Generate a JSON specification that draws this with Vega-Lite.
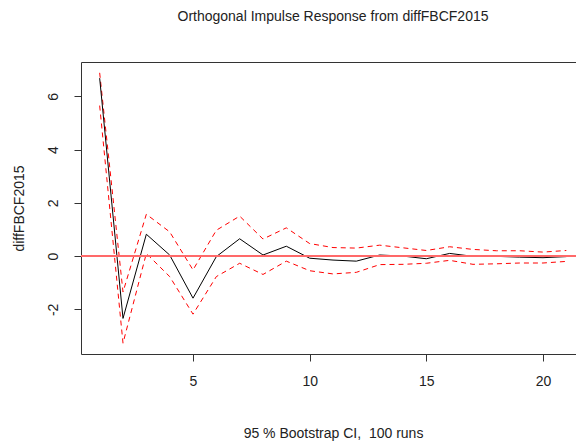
{
  "$schema": "https://vega.github.io/schema/vega-lite/v6.json",
  "autosize": "none",
  "width": 504,
  "height": 292,
  "padding": {"left": 81, "top": 62, "right": 0, "bottom": 87},
  "background": "white",
  "config": {
    "font": "Liberation Sans",
    "view": {"stroke": "#333", "strokeWidth": 1},
    "axis": {"grid": false, "domain": false, "tickColor": "#333", "tickSize": 7, "labelFontSize": 14, "titleFontSize": 14, "labelColor": "#222", "titleColor": "#222", "titleFontWeight": "normal", "labelFont": "Liberation Sans", "titleFont": "Liberation Sans"}
  },
  "title": {"text": "Orthogonal Impulse Response from diffFBCF2015", "fontSize": 14, "fontWeight": "normal", "font": "Liberation Sans", "color": "#222", "anchor": "middle", "offset": 38},
  "data": {"values": [
    {"x": 1, "irf": 6.68, "lower": 5.65, "upper": 6.88},
    {"x": 2, "irf": -2.34, "lower": -3.27, "upper": -1.35},
    {"x": 3, "irf": 0.82, "lower": 0.10, "upper": 1.57},
    {"x": 4, "irf": 0.04, "lower": -0.77, "upper": 0.91},
    {"x": 5, "irf": -1.58, "lower": -2.18, "upper": -0.52},
    {"x": 6, "irf": -0.02, "lower": -0.77, "upper": 0.97},
    {"x": 7, "irf": 0.65, "lower": -0.27, "upper": 1.50},
    {"x": 8, "irf": 0.04, "lower": -0.69, "upper": 0.64},
    {"x": 9, "irf": 0.37, "lower": -0.19, "upper": 1.06},
    {"x": 10, "irf": -0.08, "lower": -0.55, "upper": 0.47},
    {"x": 11, "irf": -0.15, "lower": -0.67, "upper": 0.32},
    {"x": 12, "irf": -0.19, "lower": -0.61, "upper": 0.30},
    {"x": 13, "irf": 0.04, "lower": -0.32, "upper": 0.41},
    {"x": 14, "irf": 0.00, "lower": -0.31, "upper": 0.31},
    {"x": 15, "irf": -0.10, "lower": -0.27, "upper": 0.21},
    {"x": 16, "irf": 0.10, "lower": -0.16, "upper": 0.35},
    {"x": 17, "irf": -0.01, "lower": -0.31, "upper": 0.25},
    {"x": 18, "irf": -0.01, "lower": -0.29, "upper": 0.20},
    {"x": 19, "irf": -0.04, "lower": -0.26, "upper": 0.20},
    {"x": 20, "irf": -0.06, "lower": -0.26, "upper": 0.15},
    {"x": 21, "irf": -0.02, "lower": -0.20, "upper": 0.21}
  ]},
  "encoding": {
    "x": {"field": "x", "type": "quantitative", "scale": {"domain": [0.2, 21.8], "nice": false, "zero": false},
      "axis": {"values": [5, 10, 15, 20], "title": "95 % Bootstrap CI,\u00a0 100 runs", "labelPadding": 13, "titlePadding": 38}}
  },
  "layer": [
    {"mark": {"type": "line", "color": "#ff0000", "strokeWidth": 1, "strokeDash": [5, 4]},
     "encoding": {"y": {"field": "upper", "type": "quantitative", "scale": {"domain": [-3.676, 7.286], "nice": false, "zero": false}}}},
    {"mark": {"type": "line", "color": "#ff0000", "strokeWidth": 1, "strokeDash": [5, 4]},
     "encoding": {"y": {"field": "lower", "type": "quantitative"}}},
    {"mark": {"type": "line", "color": "#000000", "strokeWidth": 1},
     "encoding": {"y": {"field": "irf", "type": "quantitative", "scale": {"domain": [-3.676, 7.286], "nice": false, "zero": false},
       "axis": {"values": [-2, 0, 2, 4, 6], "labelExpr": "replace(datum.label, '\u2212', '-')", "title": "diffFBCF2015", "labelAngle": -90, "labelAlign": "center", "labelBaseline": "bottom", "labelPadding": 14, "titlePadding": 20}}}},
    {"mark": {"type": "rule", "stroke": "#ff6a6a", "strokeWidth": 1},
     "encoding": {"y": {"datum": 0, "type": "quantitative"}, "x": null}}
  ]
}
